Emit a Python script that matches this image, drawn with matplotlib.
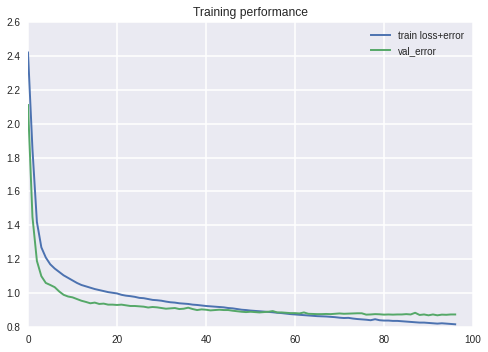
import matplotlib
matplotlib.use("Agg")
import matplotlib.pyplot as plt
import numpy as np

train_loss = [2.42, 1.85, 1.42, 1.27, 1.21, 1.17, 1.145, 1.125, 1.105, 1.09,
              1.075, 1.06, 1.048, 1.04, 1.032, 1.024, 1.018, 1.012, 1.006, 1.002,
              0.998, 0.99, 0.985, 0.982, 0.978, 0.972, 0.970, 0.965, 0.960, 0.958,
              0.955, 0.950, 0.946, 0.944, 0.940, 0.938, 0.936, 0.932, 0.930, 0.927,
              0.924, 0.922, 0.920, 0.918, 0.916, 0.912, 0.910, 0.906, 0.902, 0.900,
              0.897, 0.895, 0.893, 0.891, 0.889, 0.887, 0.884, 0.882, 0.879, 0.876,
              0.874, 0.872, 0.870, 0.868, 0.866, 0.864, 0.863, 0.862, 0.860, 0.858,
              0.855, 0.853, 0.854, 0.850, 0.847, 0.845, 0.843, 0.840, 0.846, 0.840,
              0.838, 0.838, 0.836, 0.836, 0.834, 0.832, 0.830, 0.828, 0.826, 0.826,
              0.824, 0.822, 0.820, 0.822, 0.820, 0.818, 0.816]

val_error = [2.11, 1.45, 1.19, 1.10, 1.06, 1.048, 1.035, 1.01, 0.99, 0.98,
             0.975, 0.965, 0.955, 0.948, 0.94, 0.944, 0.936, 0.938, 0.932, 0.932,
             0.930, 0.932, 0.928, 0.924, 0.924, 0.922, 0.920, 0.915, 0.918, 0.916,
             0.912, 0.908, 0.910, 0.912, 0.906, 0.908, 0.914, 0.906, 0.900, 0.904,
             0.902, 0.898, 0.900, 0.902, 0.900, 0.900, 0.896, 0.893, 0.890, 0.888,
             0.890, 0.888, 0.886, 0.888, 0.890, 0.894, 0.886, 0.886, 0.884, 0.882,
             0.882, 0.880, 0.886, 0.878, 0.877, 0.876, 0.876, 0.877, 0.876, 0.878,
             0.880, 0.878, 0.879, 0.880, 0.881, 0.881, 0.873, 0.874, 0.876, 0.875,
             0.873, 0.874, 0.873, 0.874, 0.874, 0.876, 0.874, 0.884, 0.871, 0.874,
             0.869, 0.874, 0.869, 0.873, 0.872, 0.874, 0.874]

epochs = list(range(len(train_loss)))
series_labels = ["train loss+error", "val_error"]
title = "Training performance"

plt.rcParams['font.family'] = ['Liberation Sans', 'DejaVu Sans']
text_color = '#262626'

fig = plt.figure(figsize=(4.88, 3.52), dpi=100)
ax = fig.add_axes([28/488, 1-327/352, (473-28)/488, (327-22)/352])
ax.set_facecolor('#EAEAF2')
for s in ax.spines.values():
    s.set_visible(False)
ax.grid(True, color='white', linewidth=1.1)
ax.set_axisbelow(True)

ax.plot(epochs, train_loss, color='#4C72B0', lw=1.4, label=series_labels[0])
ax.plot(epochs, val_error, color='#55A868', lw=1.4, label=series_labels[1])

ax.set_xlim(0, 100)
ax.set_ylim(0.8, 2.6)
ax.set_xticks(np.arange(0, 101, 20))
ax.set_yticks(np.arange(0.8, 2.61, 0.2))
ax.set_yticklabels([f"{v:.1f}" for v in np.arange(0.8, 2.61, 0.2)])
ax.tick_params(length=0, pad=5.5, labelsize=7.2, colors=text_color)

ax.set_title(title, fontsize=8.7, color=text_color, pad=4.5)
leg = ax.legend(loc='upper right', frameon=False, fontsize=7.1, handlelength=2.0)
for t in leg.get_texts():
    t.set_color(text_color)

fig.savefig('out.png', dpi=100)
